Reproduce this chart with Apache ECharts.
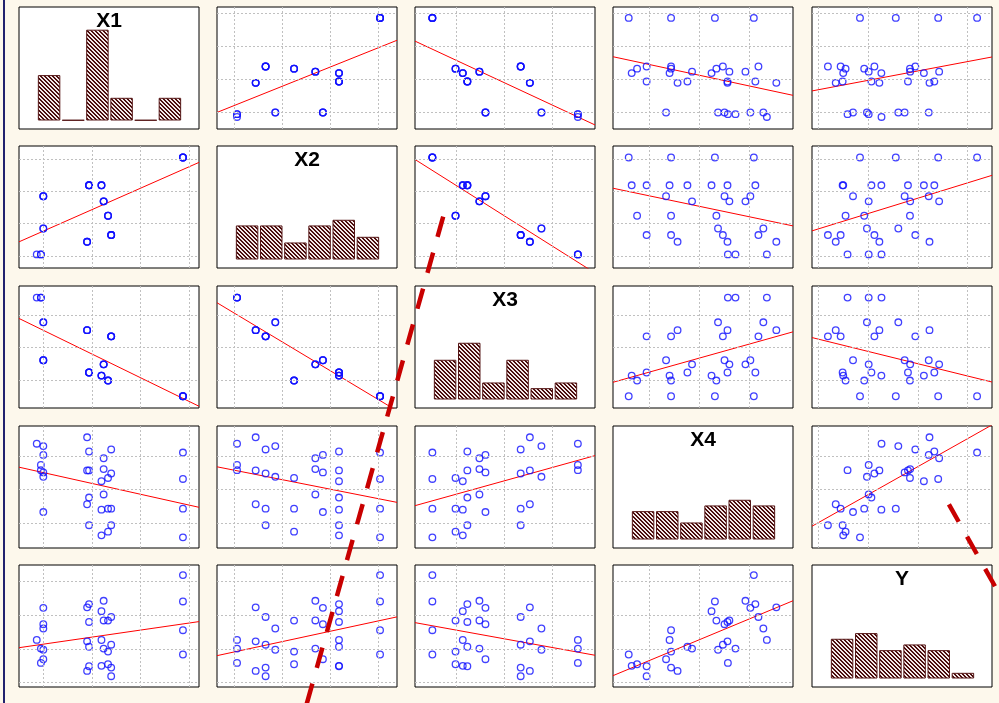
<!DOCTYPE html>
<html><head><meta charset="utf-8">
<script src="https://cdn.jsdelivr.net/npm/echarts@6/dist/echarts.min.js"></script>
<style>html,body{margin:0;padding:0;background:#fdf8ec;overflow:hidden}#c{width:999px;height:703px}</style>
</head><body><div id="c"></div><script>
// ---- data: 32 observations ----
const varNames = ['X1', 'X2', 'X3', 'X4', 'Y'];
const X1 = [2.87, 2.87, 2.87, 2.87, 1.395, 1.395, 1.395, 1.395, 0.90, 0.90, 0.90, 1.33, 1.33, 1.33, 1.24, 1.24, 1.24, 1.195, 1.195, 1.195, 0.94, 0.94, 0.94, 0.94, -0.05, -0.05, -0.135, 0, 0, 0, 0, 0];
const X2 = [3.045, 3.045, 3.045, 3.045, 0.648, 0.648, 0.648, 0.648, 0.44, 0.44, 0.44, 1.244, 1.244, 1.244, 1.69, 1.69, 1.69, 2.185, 2.185, 2.185, 2.185, 2.185, 2.185, 2.185, 0.05, 0.05, 0.05, 0.851, 0.851, 1.848, 1.848, 1.848];
const X3 = [0.51, 0.51, 0.51, 0.51, 2.34, 2.34, 2.34, 2.34, 2.53, 2.53, 2.53, 0.99, 0.99, 0.99, 1.485, 1.485, 1.485, 1.14, 1.14, 1.14, 1.235, 1.235, 1.235, 1.235, 3.525, 3.525, 3.525, 2.77, 2.77, 1.61, 1.61, 1.61];
const X4 = [0.577, 1.431, 2.315, 3.100, 0.938, 1.431, 2.476, 3.193, 1.562, 2.569, 3.554, 0.746, 1.431, 2.345, 1.854, 2.607, 2.931, 0.637, 1.401, 2.247, 0.938, 1.761, 2.569, 3.131, 2.577, 2.730, 3.363, 2.378, 3.292, 1.330, 2.509, 3.030];
const Y  = [0.835, 1.555, 2.408, 3.19, 0.19, 0.446, 1.125, 1.948, 0.347, 1.225, 2.233, 0.545, 0.92, 1.84, 1.01, 1.844, 2.427, 0.498, 1.265, 2.12, 0.486, 1.065, 1.80, 2.33, 0.585, 1.01, 1.268, 0.975, 1.606, 0.695, 1.733, 2.218];

// histogram bin counts (6 bins each)
const histX1 = [8, 0, 16, 4, 0, 4];
const histX2 = [6, 6, 3, 6, 7, 4];
const histX3 = [7, 10, 3, 7, 2, 3];
const histX4 = [5, 5, 3, 6, 7, 6];
const histY  = [7, 8, 5, 6, 5, 1];

// axis ranges and grid-line ticks per variable
const axisMin = [-0.5, -0.37, 0.15, 0.26, -0.13];
const axisMax = [3.2, 3.40, 3.88, 3.89, 3.49];
const ticksX1 = [0, 1, 2, 3];
const ticksX2 = [0, 1, 2, 3];
const ticksX3 = [1, 2, 3];
const ticksX4 = [1, 2, 3];
const ticksY  = [0, 1, 2, 3];

const vars = [X1, X2, X3, X4, Y];
const hists = [histX1, histX2, histX3, histX4, histY];
const ticks = [ticksX1, ticksX2, ticksX3, ticksX4, ticksY];

// ---- layout ----
const colLeft = [19, 217, 415, 613, 812];
const rowTop = [7, 146, 286, 426, 565];
const panelW = 180, panelH = 122;

function hatch() {
  const c = document.createElement('canvas');
  c.width = 4; c.height = 4;
  const g = c.getContext('2d');
  g.fillStyle = '#f4e8e8'; g.fillRect(0, 0, 4, 4);
  g.fillStyle = '#4a0e0e';
  for (let k = 0; k < 4; k++) { g.fillRect(k, k, 1, 1); g.fillRect((k + 1) % 4, k, 1, 1); }
  return c;
}
const pattern = { image: hatch(), repeat: 'repeat' };

function ols(x, y) {
  const n = x.length;
  let mx = 0, my = 0;
  for (let k = 0; k < n; k++) { mx += x[k]; my += y[k]; }
  mx /= n; my /= n;
  let sxy = 0, sxx = 0;
  for (let k = 0; k < n; k++) { sxy += (x[k] - mx) * (y[k] - my); sxx += (x[k] - mx) ** 2; }
  const b = sxy / sxx;
  return [my - b * mx, b];
}

const grids = [], xAxes = [], yAxes = [], series = [], graphics = [];

for (let i = 0; i < 5; i++) {
  for (let j = 0; j < 5; j++) {
    const gi = grids.length;
    grids.push({ left: colLeft[j], top: rowTop[i], width: panelW, height: panelH, show: true,
      backgroundColor: '#ffffff', borderColor: '#000', borderWidth: 1 });
    if (i !== j) {
      xAxes.push({ gridIndex: gi, type: 'value', min: axisMin[j], max: axisMax[j], show: false });
      yAxes.push({ gridIndex: gi, type: 'value', min: axisMin[i], max: axisMax[i], show: false });
      const ax = xAxes.length - 1, ay = yAxes.length - 1;
      // grid lines
      series.push({ type: 'line', xAxisIndex: ax, yAxisIndex: ay, data: [], z: 1, silent: true,
        markLine: { silent: true, symbol: 'none', animation: false, label: { show: false },
          lineStyle: { color: '#c0c0c0', type: [2, 2], width: 1 },
          emphasis: { disabled: true },
          data: ticks[j].map(v => ({ xAxis: v })).concat(ticks[i].map(v => ({ yAxis: v }))) } });
      // regression line (least squares of row variable on column variable)
      const [a, b] = ols(vars[j], vars[i]);
      series.push({ type: 'line', xAxisIndex: ax, yAxisIndex: ay, z: 2, silent: true, clip: true,
        showSymbol: false, symbol: 'none', lineStyle: { color: '#ff0000', width: 1 },
        data: [[axisMin[j], a + b * axisMin[j]], [axisMax[j], a + b * axisMax[j]]] });
      // points
      series.push({ type: 'scatter', xAxisIndex: ax, yAxisIndex: ay, z: 3, symbol: 'circle', symbolSize: 6.6,
        itemStyle: { color: 'rgba(0,0,0,0)', borderColor: '#1010ff', borderWidth: 1.3 },
        data: vars[j].map((x, k) => [x, vars[i][k]]) });
    } else {
      xAxes.push({ gridIndex: gi, type: 'value', min: 0, max: 1, show: false });
      yAxes.push({ gridIndex: gi, type: 'value', min: 0, max: 1, show: false });
      const hg = grids.length;
      grids.push({ left: colLeft[j] + 18, top: rowTop[i], width: 145, height: panelH - 8.5, show: false });
      xAxes.push({ gridIndex: hg, type: 'category', data: ['1', '2', '3', '4', '5', '6'], show: false });
      yAxes.push({ gridIndex: hg, type: 'value', min: 0, max: 20, show: false });
      series.push({ type: 'bar', xAxisIndex: xAxes.length - 1, yAxisIndex: yAxes.length - 1,
        barCategoryGap: '7%', barMinHeight: 0.5, z: 3,
        itemStyle: { color: pattern, borderColor: '#561616', borderWidth: 1 },
        data: hists[j] });
      graphics.push({ type: 'text', x: colLeft[j] + panelW / 2, y: rowTop[i] + 14, z: 50,
        style: { text: varNames[j], font: 'bold 21px "Liberation Sans", Arial, sans-serif',
          fill: '#000', align: 'center', verticalAlign: 'middle' } });
    }
  }
}

// left frame rule
graphics.push({ type: 'rect', shape: { x: 3, y: 0, width: 2, height: 703 }, style: { fill: '#22226e' }, z: 60 });
// dashed annotation strokes
graphics.push({ type: 'line', z: 100, shape: { x1: 443.2, y1: 216.7, x2: 305, y2: 710 },
  style: { stroke: '#c80000', lineWidth: 4.5, lineDash: [21, 16.3] } });
graphics.push({ type: 'line', z: 100, shape: { x1: 948.9, y1: 504.3, x2: 1010, y2: 613 },
  style: { stroke: '#c80000', lineWidth: 4.5, lineDash: [20, 17] } });

const chart = echarts.init(document.getElementById('c'), null, { renderer: 'canvas' });
chart.setOption({
  backgroundColor: '#fdf8ec',
  animation: false,
  grid: grids, xAxis: xAxes, yAxis: yAxes, series: series, graphic: graphics
});
</script></body></html>
